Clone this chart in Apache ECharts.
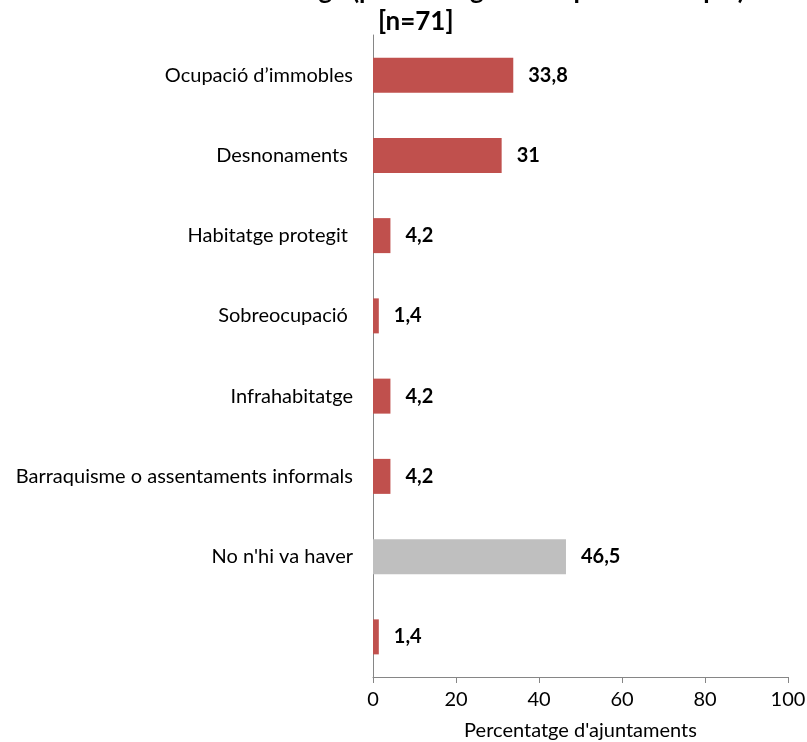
<!DOCTYPE html>
<html>
<head>
<meta charset="utf-8">
<script src="https://cdn.jsdelivr.net/npm/echarts@6/dist/echarts.min.js"></script>
<style>html,body{margin:0;padding:0;background:#fff;}#c{width:807px;height:742px;}</style>
</head>
<body>
<div id="c"></div>
<script>
var categories = ["Ocupació d\u2019immobles", "Desnonaments ", "Habitatge protegit ", "Sobreocupació ", "Infrahabitatge", "Barraquisme o assentaments informals", "No n'hi va haver", ""];
var values = [33.8, 31, 4.2, 1.4, 4.2, 4.2, 46.5, 1.4];
var barColors = ["#C0504D", "#C0504D", "#C0504D", "#C0504D", "#C0504D", "#C0504D", "#BFBFBF", "#C0504D"];
var xTicks = [0, 20, 40, 60, 80, 100];
var titleLine1 = "Problemes d'habitatge (percentatge de resposta múltiple)";
var titleLine2 = "[n=71]";
var xName = "Percentatge d'ajuntaments";

var FONT = "Lato";
var chart = echarts.init(document.getElementById('c'));
chart.setOption({
  animation: false,
  textStyle: {fontFamily: FONT},
  graphic: [
    {type: 'text', x: 745, y: -22, style: {text: titleLine1, font: 'bold 26px ' + FONT, fill: '#000', align: 'right', verticalAlign: 'top'}},
    {type: 'text', x: 378, y: 9, style: {text: titleLine2, font: 'bold 26px ' + FONT, fill: '#000', align: 'left', verticalAlign: 'top'}}
  ],
  grid: {left: 373, right: 19, top: 35, bottom: 65, containLabel: false, outerBoundsMode: 'none'},
  xAxis: {
    type: 'value', min: 0, max: 100, interval: 20,
    name: xName, nameLocation: 'middle', nameGap: 44,
    nameTextStyle: {fontSize: 20, color: '#000', fontFamily: FONT},
    axisLine: {show: true, lineStyle: {color: '#868686'}},
    axisTick: {show: true, length: 6, lineStyle: {color: '#868686'}},
    axisLabel: {fontSize: 20, color: '#000', margin: 13, fontFamily: FONT,
      formatter: function(v){ return xTicks.indexOf(v) >= 0 ? String(v) : ''; }},
    splitLine: {show: false}
  },
  yAxis: {
    type: 'category', data: categories, inverse: true,
    axisLine: {show: true, lineStyle: {color: '#868686'}},
    axisTick: {show: false},
    axisLabel: {fontSize: 20, color: '#000', margin: 20, fontFamily: FONT}
  },
  series: [{
    type: 'bar',
    data: values.map(function(v, i){ return {value: v, itemStyle: {color: barColors[i]}}; }),
    barWidth: 35,
    label: {
      show: true, position: 'right', distance: 15,
      fontSize: 20, fontWeight: 'bold', color: '#000', fontFamily: FONT,
      formatter: function(p){ return String(p.value).replace('.', ','); }
    }
  }]
});
</script>
</body>
</html>
